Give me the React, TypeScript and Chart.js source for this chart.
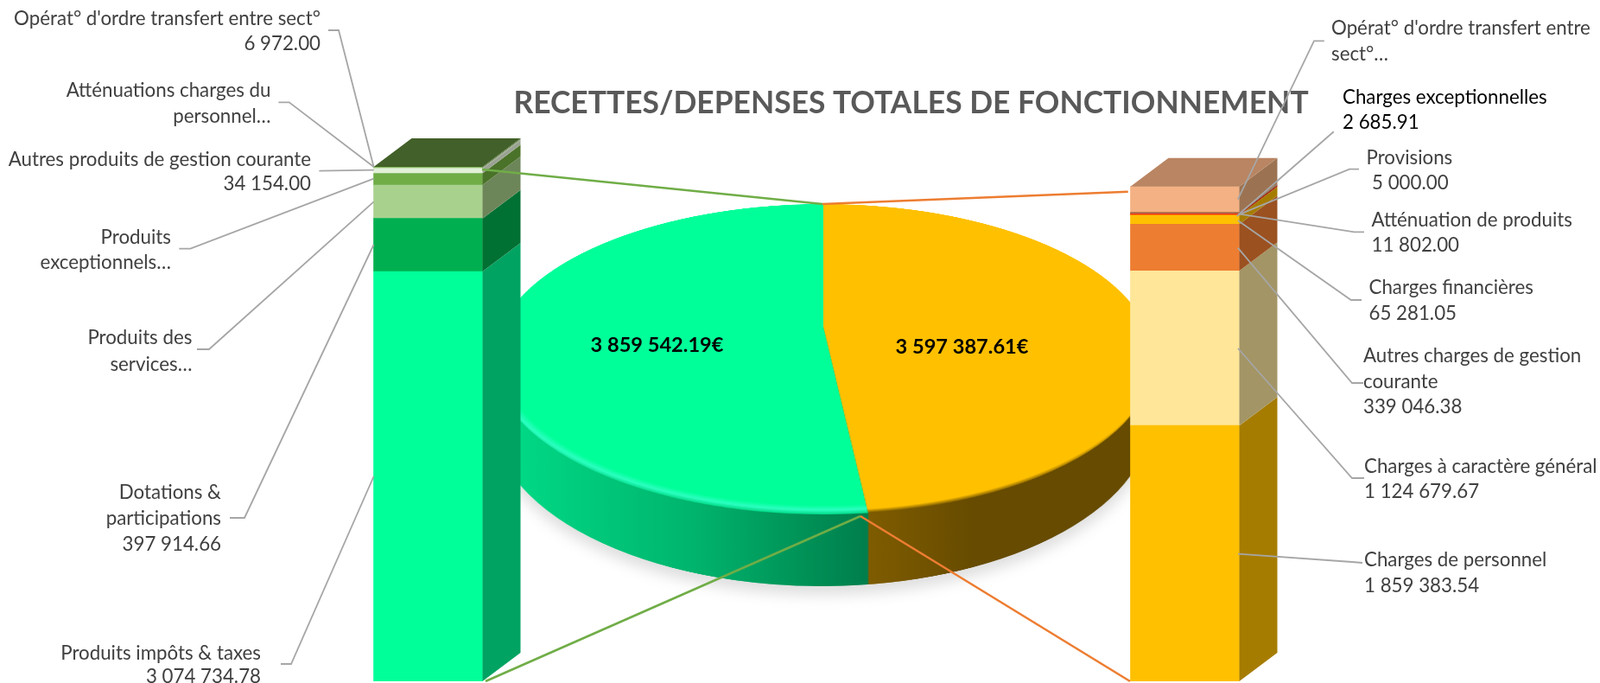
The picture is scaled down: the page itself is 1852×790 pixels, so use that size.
import React, { useEffect, useRef } from "react";
import { Chart, registerables } from "chart.js";

Chart.register(...registerables);

// ---------- data ----------
const pieNames = ["Recettes", "Dépenses"];
const pieValues = [3859542.19, 3597387.61];
const pieColors = ["#00FF99", "#FFC000"];
const pieRimColors = ["#2BFFC0", "#FFC000"];
const pieEdgeColors = ["#00D885", "#6E5000"];

const recetteNames = [
  "Produits impôts & taxes",
  "Dotations & participations",
  "Produits des services",
  "Produits exceptionnels",
  "Autres produits de gestion courante",
  "Atténuations charges du personnel",
  "Opérat° d'ordre transfert entre sect°",
];
const recetteValues = [3074734.78, 397914.66, 250000, 88000, 34154.0, 7766.75, 6972.0];
const recetteColors = ["#00FF99", "#00B050", "#A9D18E", "#70AD47", "#E2F0D9", "#C5E0B4", "#70AD47"];
const recetteSides = ["#00A362", "#007033", "#6D8659", "#4A7229", "#9AA392", "#9AA392", "#4A7229"];
const recetteTop = "#426029";

const depenseNames = [
  "Charges de personnel",
  "Charges à caractère général",
  "Autres charges de gestion courante",
  "Charges financières",
  "Atténuation de produits",
  "Provisions",
  "Charges exceptionnelles",
  "Opérat° d'ordre transfert entre sect°",
];
const depenseValues = [1859383.54, 1124679.67, 339046.38, 65281.05, 11802.0, 5000.0, 2685.91, 189509.06];
const depenseColors = ["#FFC000", "#FFE699", "#ED7D31", "#FFC000", "#FF3300", "#808080", "#843C0C", "#F4B183"];
const depenseSides = ["#A67C00", "#A39565", "#9B5120", "#A67C00", "#A62100", "#555555", "#552708", "#9C7352"];
const depenseTop = "#B98562";

const chartTitle = "RECETTES/DEPENSES TOTALES DE FONCTIONNEMENT";

const fmt = (v: number) => {
  const [i, d] = v.toFixed(2).split(".");
  return i.replace(/\B(?=(\d{3})+$)/g, " ") + "." + d;
};

// ---------- layout ----------
const W = 1852;
const H = 790;
const FONT = "Lato, Carlito, sans-serif";
const LABEL_SIZE = 22.3;

const R = 400;
const TOP_CX = 953;
const TOP_CY = 378;
const TOP_S = 373.6;
const TOP_A = 171.7;
const TOP_C = -0.2089;
const BASE_CX = 951;
const BASE_CY = 481;
const BASE_RX = 382;
const BASE_RY = 197;

const DEPTH_X = 44;
const DEPTH_Y = -33;

type Lbl = { x: number; ys: number[]; lines: string[]; align: CanvasTextAlign; color?: string; xs?: number[] };
const labels: Lbl[] = [
  { x: 371, ys: [22, 51], lines: [recetteNames[6], fmt(recetteValues[6])], align: "right" },
  { x: 313.5, ys: [105, 135], lines: ["Atténuations charges du", "personnel…"], align: "right" },
  { x: 360, ys: [185, 213], lines: [recetteNames[4], fmt(recetteValues[4])], align: "right" },
  { x: 198, ys: [275, 304], lines: ["Produits", "exceptionnels…"], align: "right" },
  { x: 222.4, ys: [391, 421.6], lines: ["Produits des", "services…"], align: "right" },
  { x: 256, ys: [570, 600, 629.5], lines: ["Dotations &", "participations", fmt(recetteValues[1])], align: "right" },
  { x: 302, ys: [756, 783], lines: [recetteNames[0], fmt(recetteValues[0])], align: "right" },
  { x: 1541, ys: [33, 63], lines: ["Opérat° d'ordre transfert entre", "sect°…"], align: "left" },
  { x: 1554, ys: [112.7, 141.7], lines: [depenseNames[6], fmt(depenseValues[6])], align: "left", color: "#000000" },
  { x: 1581.5, xs: [1581.5, 1588], ys: [182.7, 211.7], lines: [depenseNames[5], fmt(depenseValues[5])], align: "left" },
  { x: 1587.5, ys: [255, 284], lines: [depenseNames[4], fmt(depenseValues[4])], align: "left" },
  { x: 1584.5, ys: [333, 362.7], lines: [depenseNames[3], fmt(depenseValues[3])], align: "left" },
  { x: 1578, ys: [412, 441.7, 471], lines: ["Autres charges de gestion", "courante", fmt(depenseValues[2])], align: "left" },
  { x: 1579, ys: [540, 569], lines: [depenseNames[1], fmt(depenseValues[1])], align: "left" },
  { x: 1579, ys: [648, 678], lines: [depenseNames[0], fmt(depenseValues[0])], align: "left" },
];

const leaders: number[][] = [
  [380, 35, 392, 35, 432.6, 193],
  [322.4, 118.3, 334.7, 118.3, 432.6, 193],
  [369.4, 197.7, 432.6, 196.7],
  [207.3, 287.7, 220.4, 287.7, 432.6, 206.7],
  [228, 404, 242, 404, 432.6, 233.3],
  [266, 599, 283, 599, 432.6, 283],
  [325, 768, 337, 768, 432.6, 551],
  [1532.8, 47.3, 1521, 47.3, 1432.8, 230.7],
  [1543.8, 152.3, 1431.7, 250],
  [1573, 195.7, 1562, 195.7, 1433.6, 248.3],
  [1579, 268.3, 1567.5, 268.3, 1433.6, 247.3],
  [1576, 347, 1563.8, 347, 1432.8, 255],
  [1578, 443, 1565, 443, 1432.8, 286.7],
  [1579, 553, 1565, 553, 1433, 403],
  [1577, 651, 1565, 650, 1433, 640.7],
];

const connectors = [
  { color: "#70AD47", pts: [558, 196, 952, 236] },
  { color: "#ED7D31", pts: [1305.7, 221.7, 952, 236] },
  { color: "#70AD47", pts: [562, 788, 996, 597] },
  { color: "#ED7D31", pts: [996, 597, 1308, 788] },
];

const pieText = [
  { x: 760.5, y: 399, text: fmt(pieValues[0]) + "€" },
  { x: 1113.5, y: 401, text: fmt(pieValues[1]) + "€" },
];

// ---------- overlay plugin ----------
const polyline = (ctx: CanvasRenderingContext2D, p: number[]) => {
  ctx.beginPath();
  ctx.moveTo(p[0], p[1]);
  for (let i = 2; i < p.length; i += 2) ctx.lineTo(p[i], p[i + 1]);
  ctx.stroke();
};

const boxFaces = {
  id: "boxFaces",
  afterDatasetsDraw(chart: any) {
    const ctx: CanvasRenderingContext2D = chart.ctx;
    const tops: Record<number, any> = {};
    chart.data.datasets.forEach((ds: any, di: number) => {
      chart.getDatasetMeta(di).data.forEach((el: any, idx: number) => {
        if (ds.data[idx] == null) return;
        const right = el.x + el.width / 2;
        ctx.fillStyle = ds.sideColor;
        ctx.beginPath();
        ctx.moveTo(right, el.base);
        ctx.lineTo(right + DEPTH_X, el.base + DEPTH_Y);
        ctx.lineTo(right + DEPTH_X, el.y + DEPTH_Y);
        ctx.lineTo(right, el.y);
        ctx.closePath();
        ctx.fill();
        tops[idx] = { el, color: ds.topColor };
      });
    });
    Object.values(tops).forEach(({ el, color }: any) => {
      const l = el.x - el.width / 2;
      const r = el.x + el.width / 2;
      ctx.fillStyle = color;
      ctx.beginPath();
      ctx.moveTo(l, el.y);
      ctx.lineTo(r, el.y);
      ctx.lineTo(r + DEPTH_X, el.y + DEPTH_Y);
      ctx.lineTo(l + DEPTH_X, el.y + DEPTH_Y);
      ctx.closePath();
      ctx.fill();
    });
  },
};

const annotations = {
  id: "annotations",
  afterDraw(chart: any) {
    const ctx: CanvasRenderingContext2D = chart.ctx;
    ctx.save();
    ctx.textBaseline = "middle";

    ctx.fillStyle = "#595959";
    ctx.font = `bold 35.4px ${FONT}`;
    ctx.textAlign = "center";
    ctx.fillText(chartTitle, 1054.5, 120);

    ctx.lineWidth = 2.6;
    connectors.forEach((c) => {
      ctx.strokeStyle = c.color;
      polyline(ctx, c.pts);
    });

    ctx.strokeStyle = "#A6A6A6";
    ctx.lineWidth = 1.8;
    leaders.forEach((p) => polyline(ctx, p));

    ctx.font = `${LABEL_SIZE}px ${FONT}`;
    labels.forEach((l) => {
      ctx.fillStyle = l.color || "#404040";
      ctx.textAlign = l.align;
      l.lines.forEach((t, i) => ctx.fillText(t, l.xs ? l.xs[i] : l.x, l.ys[i]));
    });

    ctx.fillStyle = "#000000";
    ctx.font = `bold 23.6px ${FONT}`;
    ctx.textAlign = "center";
    pieText.forEach((t) => ctx.fillText(t.text, t.x, t.y));
    ctx.restore();
  },
};

const pieTotal = pieValues[0] + pieValues[1];
const pieRotation = -(pieValues[0] / pieTotal) * 360;

export default function App() {
  const baseRef = useRef<HTMLCanvasElement>(null);
  const topRef = useRef<HTMLCanvasElement>(null);
  const overRef = useRef<HTMLCanvasElement>(null);

  useEffect(() => {
    const pieCommon = {
      responsive: false,
      maintainAspectRatio: false,
      animation: false as const,
      devicePixelRatio: 1,
      rotation: pieRotation,
      layout: { padding: 0 },
      plugins: { legend: { display: false }, tooltip: { enabled: false }, title: { display: false } },
    };

    // wall: a second pie, lower and wider, with a horizontal gradient
    const bctx = baseRef.current!.getContext("2d")!;
    const g = bctx.createLinearGradient(0, 0, 2 * R, 0);
    const theta = (pieValues[1] / pieTotal) * 2 * Math.PI;
    const splitPage = TOP_CX + (TOP_S * Math.sin(theta)) / (1 + TOP_C * -Math.cos(theta));
    const toStop = (page: number) => (page - (BASE_CX - BASE_RX)) / (2 * BASE_RX);
    const f = toStop(splitPage);
    g.addColorStop(toStop(603), "#00D885");
    g.addColorStop(toStop(800), "#00B56E");
    g.addColorStop(toStop(900), "#009A5C");
    g.addColorStop(f - 0.0005, "#007E4C");
    g.addColorStop(f + 0.0005, "#7F5C00");
    g.addColorStop(toStop(1130), "#664B00");
    g.addColorStop(1, "#664B00");
    const base = new Chart(baseRef.current!, {
      type: "pie",
      data: {
        labels: pieNames,
        datasets: [{ data: pieValues, backgroundColor: [g, g], borderColor: [g, g], borderWidth: 1.5 }],
      },
      options: pieCommon as any,
    });

    // top face, tilted in perspective by CSS; the rim shows on the front only
    const tctx = topRef.current!.getContext("2d")!;
    const shift = 12;
    const rim = pieColors.map((c, i) => {
      const rg = tctx.createRadialGradient(R, R - shift, 0, R, R - shift, R + shift);
      rg.addColorStop(0, c);
      rg.addColorStop(0.962, c);
      rg.addColorStop(0.982, pieRimColors[i]);
      rg.addColorStop(1, pieEdgeColors[i]);
      return rg;
    });
    const top = new Chart(topRef.current!, {
      type: "pie",
      data: {
        labels: pieNames,
        datasets: [{ data: pieValues, backgroundColor: rim, borderWidth: 0 }],
      },
      options: pieCommon as any,
    });

    // stacked columns
    const ds = (names: string[], vals: number[], cols: string[], sides: string[], axis: string, idx: number, topC: string) =>
      names.map((n, i) => ({
        label: n,
        data: idx === 0 ? [vals[i], null] : [null, vals[i]],
        backgroundColor: cols[i],
        sideColor: sides[i],
        topColor: topC,
        yAxisID: axis,
        barThickness: 126,
        borderWidth: 0,
      }));
    const over = new Chart(overRef.current!, {
      type: "bar",
      data: {
        labels: pieNames,
        datasets: [
          ...ds(recetteNames, recetteValues, recetteColors, recetteSides, "y", 0, recetteTop),
          ...ds(depenseNames, depenseValues, depenseColors, depenseSides, "y1", 1, depenseTop),
        ] as any,
      },
      options: {
        responsive: false,
        maintainAspectRatio: false,
        animation: false,
        devicePixelRatio: 1,
        layout: { padding: { left: 57.5, right: 42.5, top: 193, bottom: 2 } },
        scales: {
          x: { display: false, stacked: true },
          y: { display: false, stacked: true, min: 0, max: pieValues[0] },
          y1: { display: false, stacked: true, min: 0, max: (pieValues[1] * 595) / 572.3 },
        },
        plugins: { legend: { display: false }, tooltip: { enabled: false }, title: { display: false } },
      } as any,
      plugins: [boxFaces, annotations],
    });

    return () => {
      base.destroy();
      top.destroy();
      over.destroy();
    };
  }, []);

  const abs: React.CSSProperties = { position: "absolute" };
  return (
    <div style={{ position: "absolute", left: 0, top: 0, width: W, height: H, overflow: "hidden", background: "#fff" }}>
      <div style={{ ...abs, left: 0, top: 0, width: W, height: H, filter: "drop-shadow(0px 10px 8px rgba(0,0,0,0.13))" }}>
        <canvas
          ref={baseRef}
          width={2 * R}
          height={2 * R}
          style={{
            ...abs,
            left: BASE_CX - R,
            top: BASE_CY - R,
            transformOrigin: "50% 50%",
            transform: `scale(${BASE_RX / R}, ${BASE_RY / R})`,
          }}
        />
      </div>
      <canvas
        ref={topRef}
        width={2 * R}
        height={2 * R}
        style={{
          ...abs,
          left: TOP_CX - R,
          top: TOP_CY - R,
          transformOrigin: "50% 50%",
          transform: `matrix3d(${TOP_S / R},0,0,0, 0,${TOP_A / R},0,${TOP_C / R}, 0,0,1,0, 0,0,0,1)`,
        }}
      />
      <canvas ref={overRef} width={W} height={H} style={{ ...abs, left: 0, top: 0 }} />
    </div>
  );
}
